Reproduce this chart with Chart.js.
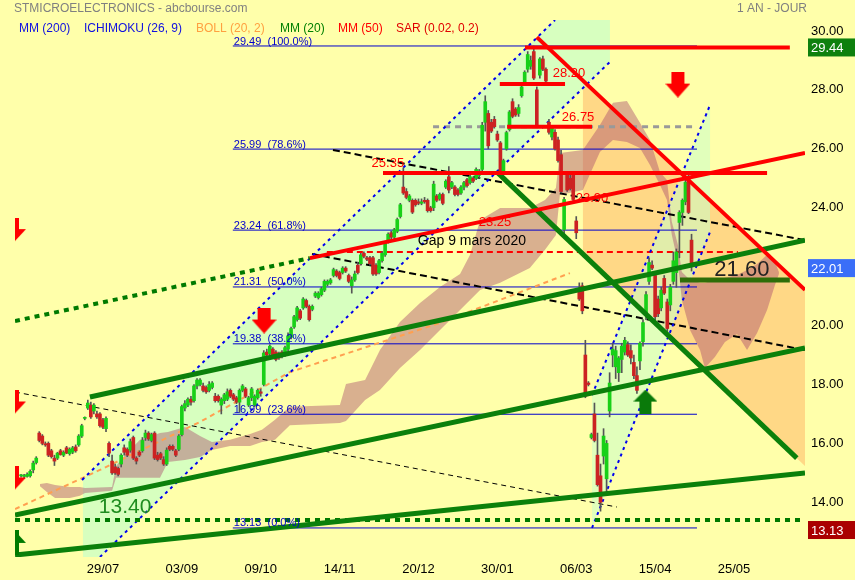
<!DOCTYPE html>
<html>
<head>
<meta charset="utf-8">
<script src="https://cdn.jsdelivr.net/npm/chart.js@4.4.0/dist/chart.umd.min.js"></script>
<style>
  html, body { margin: 0; padding: 0; background: #FFFFAA; }
  #wrap { width: 855px; height: 580px; }
</style>
</head>
<body>
<div id="wrap"><canvas id="chart" width="855" height="580"></canvas></div>
<script>
// trading-day index of the first candle (29/07 = day 26)
var firstDay = -1;

var opens = [
  14.9,14.88,14.88,14.9,15.1,15.35,16.35,16.25,15.98,16.0,
  15.75,15.5,15.5,15.75,15.6,15.85,15.65,15.7,15.88,15.95,
  16.25,16.85,17.2,17.3,17.1,17.0,17.0,16.8,16.5,16.0,
  15.4,15.2,15.15,15.3,15.85,15.8,15.77,16.2,15.5,15.7,
  15.75,16.2,16.35,16.1,16.35,15.6,15.65,15.45,15.3,15.9,
  15.9,15.75,15.8,16.3,17.2,17.3,17.5,17.45,17.95,18.0,
  17.95,17.9,17.8,17.9,17.6,17.6,17.3,17.45,17.5,17.8,
  17.65,17.55,17.4,17.8,17.85,17.3,17.55,17.3,17.55,17.75,
  18.0,19.1,19.05,19.2,19.1,19.05,19.1,19.0,19.2,19.6,
  19.95,20.2,20.5,20.6,20.85,20.65,20.55,21.0,20.95,21.05,
  21.2,21.4,21.45,21.7,21.85,21.8,21.8,21.95,21.7,21.35,
  21.55,22.05,22.1,22.45,22.3,22.3,22.3,22.05,21.8,22.2,
  22.4,22.85,23.15,23.0,23.2,23.7,24.7,24.55,24.25,24.25,
  24.25,24.2,24.15,24.25,24.25,24.0,24.0,24.4,24.3,24.45,
  24.7,25.05,24.7,24.7,24.6,24.5,24.7,24.95,24.85,25.0,
  25.0,25.1,25.3,26.9,27.2,26.9,27.0,26.5,26.2,25.2,
  26.0,26.65,27.6,27.35,27.2,27.8,28.25,28.7,28.8,29.3,
  28.0,28.5,29.05,28.7,26.9,26.4,26.56,26.3,25.8,23.26,
  25.1,25.0,25.1,23.55,21.2,21.35,19.0,18.05,16.2,17.0,
  15.6,14.9,15.57,14.8,17.1,19.0,18.6,18.4,18.85,19.1,
  19.35,19.15,18.75,18.3,18.8,19.45,20.35,21.5,22.05,21.7,
  20.9,20.6,21.6,20.8,20.7,21.5,21.8,23.5,23.84,24.2,
  24.96,22.9
];
var highs = [
  14.95,14.95,15.0,15.1,15.4,15.55,16.4,16.3,16.05,16.05,
  15.8,15.6,15.7,15.8,15.75,15.9,15.85,15.9,15.95,16.3,
  16.65,16.9,17.47,17.4,17.35,17.1,17.05,16.85,16.9,16.05,
  15.6,15.3,15.2,15.65,15.95,15.85,16.15,16.25,15.55,15.75,
  16.2,16.45,16.4,16.35,16.4,15.7,15.7,15.55,15.85,15.95,
  15.95,15.8,16.3,17.3,17.45,17.55,17.6,18.0,18.2,18.2,
  18.05,17.95,18.1,18.1,17.7,17.65,17.55,17.7,17.85,17.85,
  17.7,17.6,17.85,18.0,17.9,17.6,17.9,17.65,17.85,17.85,
  19.15,19.2,19.35,19.25,19.15,19.1,19.15,19.3,19.75,19.95,
  20.35,20.65,20.55,20.95,20.9,20.7,20.7,21.15,21.15,21.3,
  21.55,21.55,21.6,21.95,21.9,21.85,22.0,22.0,21.75,21.65,
  21.85,22.15,22.45,22.5,22.35,22.35,22.35,22.1,22.25,22.5,
  22.85,23.15,23.2,23.3,23.65,24.15,25.35,24.65,24.45,24.3,
  24.3,24.3,24.3,24.35,24.3,24.05,24.9,24.45,24.5,24.5,
  24.95,25.4,24.9,24.75,24.65,24.75,24.9,25.0,25.1,25.05,
  25.35,25.3,26.9,27.8,27.3,27.0,27.1,26.6,26.25,25.65,
  26.6,27.3,27.7,27.4,27.5,28.15,28.65,29.3,29.15,29.49,
  28.1,29.1,29.15,28.75,27.0,26.75,26.65,26.4,25.95,24.35,
  25.2,25.15,25.2,23.7,21.45,21.45,19.5,18.1,16.35,17.37,
  16.35,15.3,16.5,16.1,18.4,19.4,19.3,18.95,19.4,19.6,
  19.45,19.35,19.0,18.6,19.45,20.2,21.15,22.3,22.2,21.8,
  21.0,21.3,21.7,20.9,21.4,22.5,22.6,23.9,24.3,24.95,
  25.15,23.1
];
var lows = [
  14.85,14.8,14.85,14.85,15.0,15.3,16.05,15.95,15.9,15.55,
  15.5,15.25,15.45,15.6,15.55,15.65,15.6,15.65,15.7,15.9,
  16.2,16.8,17.15,16.85,17.0,16.85,16.55,16.5,16.4,15.55,
  14.95,14.95,14.9,15.2,15.6,15.55,15.7,15.45,15.3,15.55,
  15.7,16.1,16.1,16.05,15.45,15.4,15.45,15.25,15.25,15.75,
  15.75,15.55,15.75,16.25,17.1,17.25,17.3,17.4,17.85,17.95,
  17.75,17.7,17.75,17.85,17.4,17.4,17.0,17.35,17.45,17.55,
  17.45,17.35,17.05,17.75,17.55,17.25,17.45,17.25,17.5,17.6,
  17.95,18.95,19.0,18.9,18.8,18.85,18.9,18.95,19.15,19.55,
  19.9,20.15,20.2,20.55,20.6,20.15,20.5,20.95,20.9,21.0,
  21.15,21.35,21.4,21.65,21.65,21.55,21.75,21.8,21.45,21.1,
  21.5,21.75,22.05,22.3,22.2,22.05,21.7,21.7,21.75,22.15,
  22.35,22.8,22.95,22.95,23.15,23.65,24.45,24.3,24.2,23.8,
  24.05,24.1,24.1,24.15,23.85,23.85,23.9,24.2,24.25,24.1,
  24.65,24.5,24.65,24.4,24.4,24.45,24.6,24.7,24.8,24.85,
  24.95,25.0,25.25,26.6,26.0,26.55,26.7,26.25,25.1,25.15,
  25.95,26.6,27.05,27.1,27.1,27.75,28.2,28.6,28.7,28.35,
  26.75,28.4,28.65,28.25,26.5,26.3,25.95,25.55,24.5,23.1,
  24.55,24.6,24.2,22.95,20.85,20.4,17.55,17.95,16.15,16.05,
  14.55,13.7,15.3,14.3,16.9,18.6,18.2,18.1,18.4,19.0,
  18.95,18.7,18.2,17.7,18.5,19.3,20.2,21.4,21.9,20.2,
  20.3,20.5,21.05,19.8,20.5,21.4,21.3,22.3,23.4,24.1,
  23.8,21.85
];
var closes = [
  14.9,14.9,14.95,15.05,15.33,15.5,16.1,16.0,15.95,15.6,
  15.55,15.4,15.67,15.62,15.7,15.67,15.8,15.85,15.75,16.25,
  16.6,16.88,17.37,16.9,17.3,16.9,16.6,16.55,16.85,15.67,
  15.0,15.0,14.95,15.6,15.7,15.6,16.06,15.5,15.4,15.6,
  16.1,16.35,16.15,16.3,15.5,15.45,15.5,15.3,15.77,15.8,
  15.8,15.6,16.25,17.25,17.35,17.5,17.4,17.95,18.15,18.15,
  17.8,17.75,18.0,18.05,17.45,17.45,17.5,17.65,17.75,17.6,
  17.5,17.4,17.8,17.95,17.6,17.55,17.85,17.6,17.8,17.7,
  19.07,19.0,19.3,18.95,18.85,18.9,18.95,19.25,19.65,19.9,
  20.3,20.6,20.25,20.9,20.65,20.2,20.65,21.1,21.1,21.25,
  21.5,21.5,21.55,21.9,21.7,21.6,21.95,21.85,21.5,21.55,
  21.75,21.8,22.4,22.35,22.25,22.1,21.75,21.75,22.2,22.45,
  22.8,23.1,23.0,23.25,23.6,24.1,24.5,24.35,24.4,23.85,
  24.1,24.15,24.2,24.2,23.9,23.9,24.8,24.25,24.45,24.15,
  24.9,24.6,24.85,24.45,24.45,24.7,24.85,24.75,25.05,24.9,
  25.3,25.25,26.8,27.6,26.1,26.6,26.75,26.3,25.2,25.6,
  26.55,27.25,27.1,27.15,27.4,28.1,28.6,29.2,29.0,28.4,
  26.8,29.05,28.7,28.3,26.56,26.7,26.0,25.6,24.55,24.28,
  24.6,24.65,24.28,23.15,20.9,20.5,17.6,18.0,16.3,16.1,
  14.6,14.0,16.25,16.0,18.05,19.2,19.15,18.9,19.3,19.5,
  19.0,18.9,18.3,17.8,19.4,20.1,21.05,22.14,21.95,20.3,
  20.4,21.2,21.1,19.9,21.3,22.2,22.5,23.84,24.25,24.86,
  23.84,22.01
];

var dateTicks = [26, 52, 78, 104, 130, 156, 182, 208, 234];
var dateLabels = ['29/07', '03/09', '09/10', '14/11', '20/12', '30/01', '06/03', '15/04', '25/05'];
var priceTicks = [14, 16, 18, 20, 22, 24, 26, 28, 30];

// fibonacci retracement
var fibLevels = [29.49, 25.99, 23.24, 21.31, 19.38, 16.99, 13.13];
var fibPcts = ['100.0%', '78.6%', '61.8%', '50.0%', '38.2%', '23.6%', '0.0%'];
var fibSpan = [68.8, 221.8];

// ichimoku cloud (day, upper edge, lower edge)
var cloudDays = [5.2,7.5,10.2,15.1,18.4,20.1,29.0,30.3,33.3,38.2,44.8,47.4,53.0,58.0,61.9,67.9,74.5,78.4,82.7,87.6,
  104.1,106.1,112.4,117.3,123.9,130.5,137.1,143.7,147.0,150.3,156.9,166.7,171.7,175.3,176.6,184.2,189.8,194.1,198.7,
  203.0,206.3,209.6,211.9,213.5,215.5,216.8,219.5,222.8,224.4,227.7,231.0,235.0,238.3,241.6,244.9,247.5,248.8];
var cloudTop = [14.62,14.66,14.59,14.52,14.52,14.49,14.52,15.23,15.61,16.12,16.35,16.39,16.56,16.25,16.05,16.12,16.32,16.46,16.80,17.24,
  17.30,18.02,18.15,19.17,20.12,20.77,21.31,21.75,22.40,23.58,23.99,23.99,24.26,24.67,25.86,25.96,26.81,27.56,27.62,
  26.88,26.30,25.21,24.94,23.52,22.74,21.82,21.55,21.45,21.45,21.55,21.62,21.72,21.89,22.09,22.40,22.16,21.82];
var cloudBottom = [14.55,14.35,14.15,14.15,14.22,14.32,14.39,14.83,14.83,14.83,14.83,15.37,15.44,15.54,15.78,15.91,15.91,16.05,16.12,16.62,
  16.69,16.76,17.47,17.81,18.56,19.17,19.85,20.53,20.87,21.21,21.45,21.95,22.57,23.07,24.43,24.60,25.89,26.30,26.23,
  26.03,25.45,24.77,24.26,23.07,22.16,20.87,19.85,19.17,18.56,18.93,19.44,19.71,19.17,19.75,20.53,21.38,21.75];

// moving average (dashed orange)
var avgLine = [[-3, 13.77], [25.0, 15.10], [58.0, 16.73], [87.6, 18.42], [137.1, 20.09], [179.9, 21.78]];

// shaded zones
var channelZone1 = [[19.4, 14.79], [175.0, 30.37], [193.1, 30.37], [193.1, 28.95], [25.0, 12.144], [19.4, 12.144]];
var channelZone2 = [[187.2, 17.64], [226.1, 27.49], [226.1, 23.18], [187.2, 13.13]];
var wedgeZone = [[184.2, 28.23], [257.4, 21.21], [257.4, 15.23], [184.2, 22.43]];

// trend lines [[day, price], [day, price]]
var channelLines = [
  [[19.1, 14.76], [175.0, 30.37]], [[25.0, 12.144], [193.1, 28.95]],
  [[187.2, 17.64], [226.1, 27.49]], [[187.2, 13.13], [226.1, 23.18]]
];
var greenLines = [
  [[-3, 12.21], [257.4, 14.995]], [[-3, 13.57], [257.4, 19.24]], [[21.7, 17.575], [257.4, 22.90]],
  [[155.9, 25.21], [254.7, 15.50]]
];
var supportLine = [[216.2, 21.55], [252.4, 21.55]];
var redLines = [
  [[94.2, 22.29], [257.4, 25.86]], [[169.0, 29.79], [257.4, 21.21]], [[165.1, 29.44], [252.4, 29.44]],
  [[118.3, 25.18], [244.9, 25.18]], [[156.8, 28.20], [178.3, 28.20]], [[159.2, 26.75], [187.2, 26.75]]
];
var greenDotted = [[[-3, 20.155], [94.2, 22.29]], [[-3, 13.40], [257.4, 13.40]]];
var blackDashed = [[[101.8, 25.96], [257.4, 22.90]], [[94.9, 22.43], [257.4, 19.17]]];
var blackThin = [[-3, 17.745], [195.4, 13.84]];
var gapLine = [[99.8, 22.50], [235.3, 22.50]];
var greyDotted = [[134.8, 26.75], [221.8, 26.75]];

// chart notes
var notes = [
  { text: '25.35', x: 119.9, y: 25.52, color: '#FF0000', size: 13 },
  { text: '28.20', x: 179.6, y: 28.57, color: '#FF0000', size: 13 },
  { text: '26.75', x: 182.6, y: 27.05, color: '#FF0000', size: 13 },
  { text: '23.25', x: 155.2, y: 23.51, color: '#FF0000', size: 13 },
  { text: '23.90', x: 187.2, y: 24.33, color: '#FF0000', size: 13 },
  { text: 'Gap 9 mars 2020', x: 147.6, y: 22.87, color: '#000000', size: 14 },
  { text: '13.40', x: 33.3, y: 13.84, color: '#1E8C1E', size: 21 },
  { text: '21.60', x: 236.6, y: 21.89, color: '#222222', size: 22 }
];
var priceTags = [
  { text: '29.44', y: 29.44, bg: '#0E800E' },
  { text: '22.01', y: 21.95, bg: '#3A6EF8' },
  { text: '13.13', y: 13.06, bg: '#AA0000' }
];
var legendItems = [
  { text: 'MM (200)', color: '#1010E0', left: 19 },
  { text: 'ICHIMOKU (26, 9)', color: '#1010E0', left: 84 },
  { text: 'BOLL (20, 2)', color: '#FFA040', left: 196 },
  { text: 'MM (20)', color: '#008000', left: 280 },
  { text: 'MM (50)', color: '#FF0000', left: 338 },
  { text: 'SAR (0.02, 0.2)', color: '#E00000', left: 396 }
];
var markers = [
  { x: -1.36, y: 23.24, kind: 'flagRed' },
  { x: -1.36, y: 17.39, kind: 'flagRed' },
  { x: -1.36, y: 14.81, kind: 'flagRed' },
  { x: -1.36, y: 12.64, kind: 'flagGreen' },
  { x: 79.1, y: 20.17, kind: 'down' },
  { x: 215.5, y: 28.18, kind: 'down' },
  { x: 204.8, y: 17.42, kind: 'up' }
];

Chart.defaults.font.family = '"Liberation Sans", Arial, sans-serif';

function pts(list) {
  return list.map(function (p) { return { x: p[0], y: p[1] }; });
}
function lineSet(list, color, width, dash, order) {
  return {
    type: 'line', data: pts(list), borderColor: color, borderWidth: width,
    borderDash: dash || [], pointRadius: 0, fill: false, tension: 0, order: order
  };
}
function zoneSet(list, color, order) {
  return {
    type: 'line', data: pts(list), backgroundColor: color, borderColor: 'rgba(0,0,0,0)',
    borderWidth: 0, pointRadius: 0, fill: 'shape', tension: 0, order: order
  };
}

function makeIcon(w, h, paint) {
  var c = document.createElement('canvas');
  c.width = w; c.height = h;
  var g = c.getContext('2d');
  paint(g);
  return c;
}
var icons = {
  down: makeIcon(25, 26, function (g) {
    g.fillStyle = '#FF0000';
    g.fillRect(6, 0, 13, 13);
    g.beginPath(); g.moveTo(0, 12); g.lineTo(25, 12); g.lineTo(12.5, 26); g.closePath(); g.fill();
  }),
  up: makeIcon(24, 24, function (g) {
    g.fillStyle = '#0A7A0A';
    g.beginPath(); g.moveTo(12, 0); g.lineTo(24, 12); g.lineTo(0, 12); g.closePath(); g.fill();
    g.fillRect(6, 12, 12, 12);
  }),
  flagRed: makeIcon(12, 24, function (g) {
    g.fillStyle = '#FF0000';
    g.fillRect(0, 0, 5, 14);
    g.beginPath(); g.moveTo(0, 11); g.lineTo(12, 11); g.lineTo(0, 24); g.closePath(); g.fill();
  }),
  flagGreen: makeIcon(12, 25, function (g) {
    g.fillStyle = '#007A00';
    g.fillRect(0, 0, 5, 25);
    g.beginPath(); g.moveTo(0, 0); g.lineTo(12, 13); g.lineTo(0, 13); g.closePath(); g.fill();
  })
};

var wicks = [], bodies = [], bodyColors = [];
for (var k = 0; k < closes.length; k++) {
  wicks.push({ x: firstDay + k, y: [lows[k], highs[k]] });
  bodies.push({ x: firstDay + k, y: [opens[k], closes[k]] });
  bodyColors.push(closes[k] >= opens[k] ? '#18D018' : '#CC2222');
}

var datasets = [];
datasets.push(zoneSet(wedgeZone, 'rgba(255,190,110,0.6)', 100));
datasets.push(zoneSet(channelZone1, 'rgba(200,255,200,0.72)', 99));
datasets.push(zoneSet(channelZone2, 'rgba(200,255,200,0.55)', 98));
datasets.push({
  type: 'line', data: cloudDays.map(function (d, n) { return { x: d, y: cloudTop[n] }; }),
  borderColor: 'rgba(0,0,0,0)', borderWidth: 0, backgroundColor: 'rgba(170,80,110,0.45)',
  pointRadius: 0, fill: '+1', tension: 0, order: 97
});
datasets.push({
  type: 'line', data: cloudDays.map(function (d, n) { return { x: d, y: cloudBottom[n] }; }),
  borderColor: 'rgba(0,0,0,0)', borderWidth: 0, pointRadius: 0, fill: false, tension: 0, order: 96
});
fibLevels.forEach(function (lv) {
  datasets.push(lineSet([[fibSpan[0], lv], [fibSpan[1], lv]], '#0000CC', 1, null, 90));
});
datasets.push(lineSet(avgLine, '#FFA050', 2, [5, 4], 85));
datasets.push(lineSet(blackThin, '#000000', 1, [5, 4], 84));
blackDashed.forEach(function (l) { datasets.push(lineSet(l, '#000000', 2, [7, 4], 83)); });
datasets.push(lineSet(greyDotted, '#999999', 3, [6, 5], 82));
datasets.push(lineSet(gapLine, '#FF0000', 2, [6, 4], 81));
channelLines.forEach(function (l) { datasets.push(lineSet(l, '#0000EE', 2, [3, 4], 80)); });
datasets.push({
  type: 'bar', data: wicks, backgroundColor: '#555555', barThickness: 1, grouped: false, order: 61
});
datasets.push({
  type: 'bar', data: bodies, backgroundColor: bodyColors, barThickness: 3, grouped: false,
  minBarLength: 1, order: 60
});
greenDotted.forEach(function (l) { datasets.push(lineSet(l, '#007A00', 4, [5, 5], 45)); });
greenLines.forEach(function (l) { datasets.push(lineSet(l, '#0B800B', 5, null, 42)); });
datasets.push(lineSet(supportLine, '#2E6E08', 5, null, 41));
redLines.forEach(function (l) { datasets.push(lineSet(l, '#FF0000', 4, null, 40)); });
datasets.push({
  type: 'line', showLine: false, data: markers.map(function (m) { return { x: m.x, y: m.y }; }),
  pointStyle: markers.map(function (m) { return icons[m.kind]; }), pointRadius: 6, order: 1
});

var overlay = {
  id: 'overlay',
  beforeDraw: function (chart) {
    var c = chart.ctx;
    c.save();
    c.fillStyle = '#FFFFAA';
    c.fillRect(0, 0, chart.width, chart.height);
    c.restore();
  },
  afterDatasetsDraw: function (chart) {
    var c = chart.ctx, xs = chart.scales.x, ys = chart.scales.y, area = chart.chartArea;
    c.save();
    // fibonacci labels
    c.font = '11px "Liberation Sans", Arial, sans-serif';
    c.fillStyle = '#0000CC';
    c.textAlign = 'left';
    c.textBaseline = 'bottom';
    fibLevels.forEach(function (lv, n) {
      c.fillText(lv.toFixed(2) + '  (' + fibPcts[n] + ')', xs.getPixelForValue(fibSpan[0]) + 1, ys.getPixelForValue(lv) + 1);
    });
    // notes
    c.textAlign = 'center';
    c.textBaseline = 'middle';
    notes.forEach(function (n) {
      c.font = n.size + 'px "Liberation Sans", Arial, sans-serif';
      c.fillStyle = n.color;
      c.fillText(n.text, xs.getPixelForValue(n.x), ys.getPixelForValue(n.y));
    });
    // price tags on the axis
    c.font = '13px "Liberation Sans", Arial, sans-serif';
    c.textAlign = 'left';
    priceTags.forEach(function (t) {
      var py = ys.getPixelForValue(t.y);
      c.fillStyle = t.bg;
      c.fillRect(area.right + 3, py - 9, chart.width - area.right - 3, 18);
      c.fillStyle = '#FFFFFF';
      c.fillText(t.text, area.right + 6, py + 1);
    });
    // header
    c.font = '12px "Liberation Sans", Arial, sans-serif';
    c.fillStyle = '#808080';
    c.fillText('STMICROELECTRONICS - abcbourse.com', 14, 9);
    c.fillText('1 AN - JOUR', 737, 9);
    legendItems.forEach(function (it) {
      c.fillStyle = it.color;
      c.fillText(it.text, it.left, 29);
    });
    c.restore();
  }
};

new Chart(document.getElementById('chart'), {
  type: 'bar',
  data: { datasets: datasets },
  plugins: [overlay],
  options: {
    responsive: false,
    animation: false,
    events: [],
    layout: { padding: { left: 15, top: 20, right: 0, bottom: 0 } },
    plugins: { legend: { display: false }, tooltip: { enabled: false } },
    scales: {
      x: {
        type: 'linear', min: -3, max: 257.4, offset: false,
        grid: { display: false, drawTicks: false }, border: { display: false },
        afterBuildTicks: function (s) { s.ticks = dateTicks.map(function (v) { return { value: v }; }); },
        afterFit: function (s) { s.height = 23; },
        ticks: {
          autoSkip: false, maxRotation: 0, padding: 5, color: '#000000', font: { size: 13 },
          callback: function (v) { var n = dateTicks.indexOf(v); return n < 0 ? '' : dateLabels[n]; }
        }
      },
      y: {
        type: 'linear', position: 'right', min: 12.144, max: 30.372,
        grid: { display: false, drawTicks: false }, border: { display: false },
        afterBuildTicks: function (s) { s.ticks = priceTicks.map(function (v) { return { value: v }; }); },
        afterFit: function (s) { s.width = 50; },
        ticks: {
          padding: 6, color: '#000000', font: { size: 13 },
          callback: function (v) { return Number(v).toFixed(2); }
        }
      }
    }
  }
});
</script>
</body>
</html>
